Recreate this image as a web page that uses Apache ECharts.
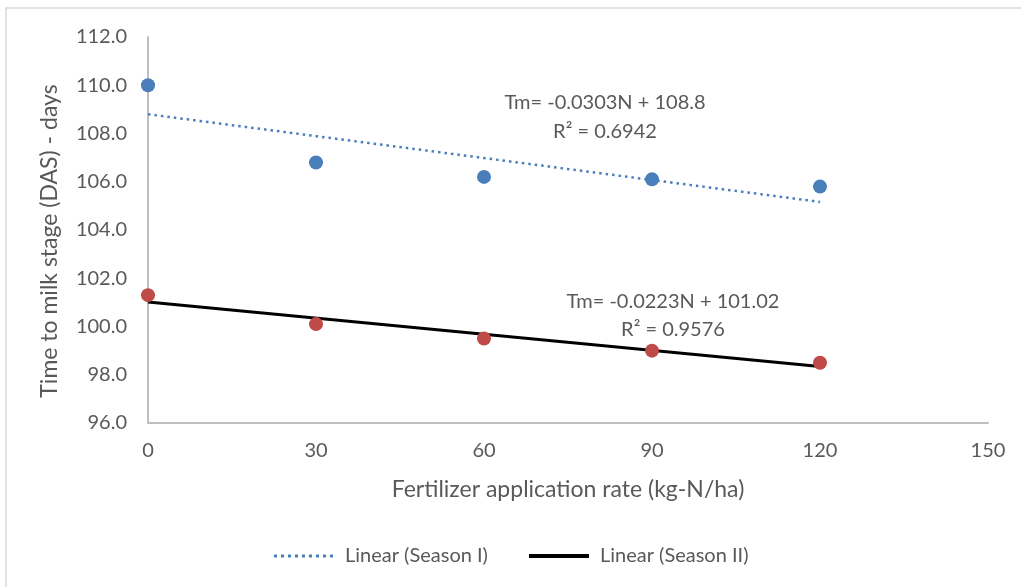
<!DOCTYPE html>
<html>
<head>
<meta charset="utf-8">
<script src="https://cdn.jsdelivr.net/npm/echarts@6/dist/echarts.min.js"></script>
<style>
  html, body { margin: 0; padding: 0; background: #fff; }
  #chart { width: 1021px; height: 587px; }
</style>
</head>
<body>
<div id="chart"></div>
<script>
// Nitrogen rates (kg-N/ha) and observed days to milk stage
const nRates = [0, 30, 60, 90, 120];
const seasonI = [110.0, 106.8, 106.2, 106.1, 105.8];
const seasonII = [101.3, 100.1, 99.5, 99.0, 98.5];

// Fitted linear trends: Tm = slope * N + intercept
const trendI = { slope: -0.0303, intercept: 108.8, r2: '0.6942' };
const trendII = { slope: -0.0223, intercept: 101.02, r2: '0.9576' };

const trendRange = [0, 120];
const trendPoints = t => trendRange.map(n => [n, +(t.slope * n + t.intercept).toFixed(4)]);
const equation = t => 'Tm= ' + t.slope + 'N + ' + t.intercept + '\nR² = ' + t.r2;

const font = 'Lato, "Open Sans", sans-serif';
const textColor = '#595959';

const chart = echarts.init(document.getElementById('chart'));
chart.setOption({
  animation: false,
  backgroundColor: '#fff',
  grid: { left: 148, top: 37, right: 33, bottom: 164 },
  xAxis: {
    type: 'value', min: 0, max: 150, interval: 30,
    name: 'Fertilizer application rate (kg-N/ha)',
    nameLocation: 'middle', nameGap: 55,
    nameTextStyle: { fontFamily: font, fontSize: 23, color: textColor },
    axisLine: { lineStyle: { color: '#bfbfbf', width: 2 } },
    axisTick: { show: false },
    splitLine: { show: false },
    axisLabel: { fontFamily: font, fontSize: 20, color: textColor, margin: 18 }
  },
  yAxis: {
    type: 'value', min: 96, max: 112, interval: 2,
    axisLine: { show: true, lineStyle: { color: '#bfbfbf', width: 2 } },
    axisTick: { show: false },
    splitLine: { show: false },
    axisLabel: { fontFamily: font, fontSize: 20, color: textColor, margin: 21,
      formatter: v => v.toFixed(1) }
  },
  legend: {
    bottom: 16, left: 'center', itemGap: 39, itemWidth: 60, itemHeight: 10,
    itemStyle: { opacity: 0 },
    data: [
      { name: 'Linear (Season I)', lineStyle: { width: 3, type: [3, 4] } },
      { name: 'Linear (Season II)', lineStyle: { width: 4 } }
    ],
    textStyle: { fontFamily: font, fontSize: 20, color: textColor, padding: [0, 0, 0, 6] }
  },
  series: [
    {
      name: 'Season I', type: 'scatter', symbolSize: 14,
      itemStyle: { color: '#4a7ebb', opacity: 1 },
      data: nRates.map((n, i) => [n, seasonI[i]])
    },
    {
      name: 'Season II', type: 'scatter', symbolSize: 14,
      itemStyle: { color: '#be4b48', opacity: 1 },
      data: nRates.map((n, i) => [n, seasonII[i]])
    },
    {
      name: 'Linear (Season I)', type: 'line', showSymbol: false, symbol: 'none',
      lineStyle: { color: '#4a7ebb', width: 2.5, type: [2.5, 4] },
      itemStyle: { color: '#4a7ebb' },
      data: trendPoints(trendI), z: 1
    },
    {
      name: 'Linear (Season II)', type: 'line', showSymbol: false, symbol: 'none',
      lineStyle: { color: '#000', width: 3 },
      itemStyle: { color: '#000' },
      data: trendPoints(trendII), z: 1
    }
  ],
  graphic: [
    { type: 'rect', shape: { x: 6, y: 8, width: 1100, height: 1000 },
      style: { fill: 'none', stroke: '#d9d9d9', lineWidth: 1.5 }, silent: true },
    { type: 'text', x: 50, y: 241, rotation: Math.PI / 2,
      style: { text: 'Time to milk stage (DAS) - days', textAlign: 'center', textVerticalAlign: 'middle',
        font: '23px ' + font, fill: textColor } },
    { type: 'text', x: 605, y: 117,
      style: { text: equation(trendI), textAlign: 'center', textVerticalAlign: 'middle',
        font: '20px ' + font, fill: textColor, lineHeight: 29 } },
    { type: 'text', x: 673, y: 316,
      style: { text: equation(trendII), textAlign: 'center', textVerticalAlign: 'middle',
        font: '20px ' + font, fill: textColor, lineHeight: 28 } }
  ]
});
</script>
</body>
</html>
